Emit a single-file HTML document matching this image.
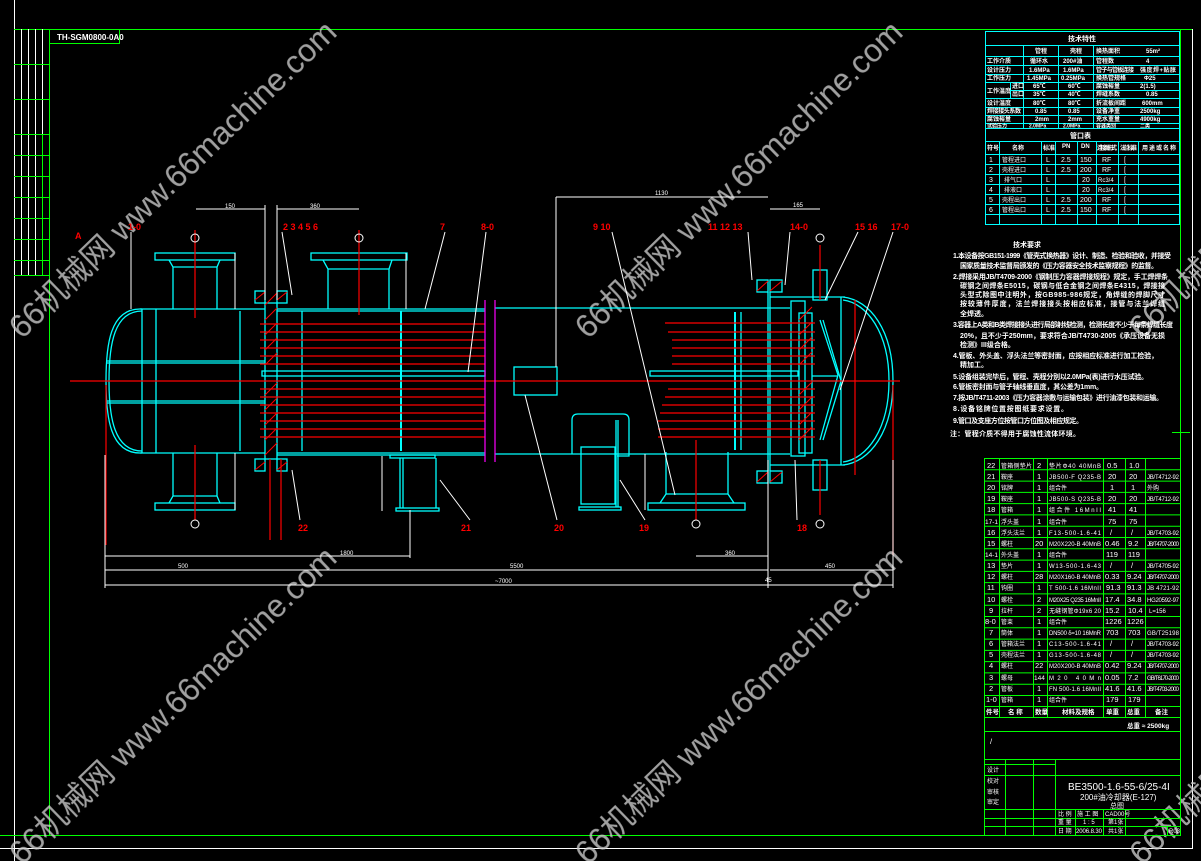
<!DOCTYPE html>
<html><head><meta charset="utf-8"><style>
html,body{margin:0;padding:0;background:#000;}
svg{display:block}
text{font-family:"Liberation Sans","WenQuanYi Zen Hei","Noto Sans CJK SC",sans-serif;}
</style></head><body>
<svg width="1201" height="861" viewBox="0 0 1201 861" xmlns="http://www.w3.org/2000/svg">
<rect width="1201" height="861" fill="#000"/>
<g fill="none" stroke-width="1">
<line x1="14.5" y1="0" x2="14.5" y2="861" stroke="#fff"/>
<line x1="14" y1="29.5" x2="1193" y2="29.5" stroke="#0f0"/>
<line x1="1192.5" y1="29" x2="1192.5" y2="848" stroke="#fff"/>
<line x1="0" y1="848.5" x2="1193" y2="848.5" stroke="#fff"/>
<line x1="49.5" y1="29" x2="49.5" y2="836" stroke="#0f0"/>
<line x1="0" y1="835.5" x2="1181" y2="835.5" stroke="#0f0"/>
<line x1="1180.5" y1="29" x2="1180.5" y2="736" stroke="#0f0"/>
<line x1="1180.5" y1="736" x2="1180.5" y2="836" stroke="#fc0"/>
<line x1="1172" y1="432.5" x2="1190" y2="432.5" stroke="#0f0"/>
<g stroke="#fff"><line x1="21.5" y1="29" x2="21.5" y2="275"/><line x1="28.5" y1="29" x2="28.5" y2="275"/><line x1="35.5" y1="29" x2="35.5" y2="275"/><line x1="42.5" y1="29" x2="42.5" y2="134"/></g>
<g stroke="#0f0"><line x1="42.5" y1="134" x2="42.5" y2="275"/>
<line x1="14" y1="64.5" x2="49" y2="64.5"/><line x1="14" y1="99.5" x2="49" y2="99.5"/><line x1="14" y1="134.5" x2="49" y2="134.5"/><line x1="14" y1="155.5" x2="49" y2="155.5"/><line x1="14" y1="176.5" x2="49" y2="176.5"/><line x1="14" y1="197.5" x2="49" y2="197.5"/><line x1="14" y1="218.5" x2="49" y2="218.5"/><line x1="14" y1="239.5" x2="49" y2="239.5"/><line x1="14" y1="260.5" x2="49" y2="260.5"/><line x1="14" y1="275.5" x2="49" y2="275.5"/>
<polyline points="49,43.5 119.5,43.5 119.5,29"/></g>
</g>
<text x="57" y="40" fill="#fff" font-size="8" font-weight="bold">TH-SGM0800-0A0</text>

<g fill="#c8c8c8" opacity="0.8" font-size="32">
<text transform="translate(22,340) rotate(-44)" textLength="440">66机械网 www.66machine.com</text>
<text transform="translate(588,340) rotate(-44)" textLength="440">66机械网 www.66machine.com</text>
<text transform="translate(1142,340) rotate(-44)" textLength="440">66机械网 www.66machine.com</text>
<text transform="translate(22,866) rotate(-44)" textLength="440">66机械网 www.66machine.com</text>
<text transform="translate(588,866) rotate(-44)" textLength="440">66机械网 www.66machine.com</text>
<text transform="translate(1142,866) rotate(-44)" textLength="440">66机械网 www.66machine.com</text>
</g>

<g fill="none" stroke="#0ff" stroke-width="1.3">
<path d="M142,309 L140,309 C110,309 106,345 106,381 C106,417 110,453 140,453 L142,453"/>
<path d="M142,311 C114,311 109,345 109,381 C109,417 114,451 142,451"/>
<line x1="142" y1="309" x2="142" y2="453"/>
<line x1="156" y1="309" x2="156" y2="453"/>
<line x1="140" y1="309" x2="265" y2="309"/><line x1="140" y1="453" x2="265" y2="453"/>
<line x1="240" y1="311" x2="240" y2="451"/>
<line x1="107" y1="361" x2="265" y2="361"/><line x1="107" y1="363" x2="265" y2="363"/>
<line x1="107" y1="401" x2="265" y2="401"/><line x1="107" y1="403" x2="265" y2="403"/>
<rect x="155" y="253" width="80" height="7"/><path d="M169,260 L173,267 L173,309 M220,260 L217,267 L217,309 M173,267 L217,267"/>
<rect x="155" y="503" width="80" height="7"/><path d="M169,503 L173,496 L173,453 M220,503 L217,496 L217,453 M173,496 L217,496"/>
<rect x="255" y="291" width="10" height="12"/><rect x="277" y="291" width="10" height="12"/>
<rect x="255" y="459" width="10" height="12"/><rect x="277" y="459" width="10" height="12"/>
<rect x="265" y="303" width="12" height="156"/>
<line x1="277" y1="309" x2="485" y2="309"/><line x1="277" y1="311" x2="485" y2="311"/>
<line x1="277" y1="453" x2="485" y2="453"/><line x1="277" y1="455" x2="485" y2="455"/>
<line x1="302" y1="311" x2="302" y2="451"/>
<line x1="401" y1="311" x2="401" y2="451" stroke-width="2"/>
<rect x="262" y="371" width="223" height="5"/>
<rect x="311" y="253" width="96" height="7"/><path d="M323,260 L328,269 L328,309 M392,260 L389,269 L389,309 M328,269 L389,269"/>
<rect x="390" y="455" width="45" height="3"/><line x1="400" y1="458" x2="400" y2="508"/><line x1="403" y1="458" x2="403" y2="508"/><line x1="436" y1="458" x2="436" y2="508"/><rect x="396" y="508" width="43" height="3"/>
<line x1="495" y1="308" x2="790" y2="308"/><line x1="495" y1="454" x2="790" y2="454"/>
<rect x="514" y="367" width="43" height="28"/>
<path d="M572,454 L572,420 Q572,414 578,414 L623,414 Q629,414 629,420 L629,456 L617,456"/>
<rect x="581" y="447" width="34" height="57"/><line x1="616" y1="420" x2="616" y2="507"/><line x1="618" y1="420" x2="618" y2="507"/>
<rect x="579" y="507" width="42" height="3"/>
<path d="M666,452 L666,494 L660,503 M728,452 L728,494 L734,503 M666,494 L728,494"/><rect x="648" y="503" width="97" height="7"/>
<line x1="735" y1="312" x2="735" y2="450" stroke-width="2"/>
<line x1="741" y1="312" x2="741" y2="450"/>
<rect x="757" y="280" width="11" height="12"/><rect x="770" y="280" width="12" height="12"/>
<rect x="757" y="471" width="11" height="12"/><rect x="770" y="471" width="12" height="12"/>
<line x1="768" y1="292" x2="768" y2="471"/><line x1="770" y1="292" x2="770" y2="471"/>
<rect x="791" y="301" width="14" height="155"/>
<rect x="799" y="313" width="13" height="140"/>
<rect x="813" y="270" width="14" height="30"/><rect x="813" y="460" width="14" height="30"/>
<line x1="770" y1="297" x2="845" y2="297"/><line x1="770" y1="465" x2="845" y2="465"/>
<path d="M843,297 C870,300 893,330 893,381 C893,432 870,462 843,465"/>
<path d="M843,300 C867,303 889,333 889,381 C889,429 867,459 843,462"/>
<path d="M820,320 L838,375 L820,440"/><path d="M823,320 L841,381 L823,440"/>
<line x1="812" y1="381" x2="838" y2="381"/><line x1="812" y1="376" x2="838" y2="376"/>
<rect x="650" y="371" width="148" height="5"/>
<line x1="841" y1="297" x2="841" y2="465"/>
</g>
<g stroke="#f00" stroke-width="1" fill="none">
<path d="M265,305 L277,293 M265,320 L277,308 M265,335 L277,323 M265,350 L277,338 M265,365 L277,353 M265,395 L277,383 M265,410 L277,398 M265,425 L277,413 M265,440 L277,428 M265,455 L277,443"/>
<path d="M255,300 L265,292 M277,300 L287,292 M255,470 L265,462 M277,470 L287,462"/>
<path d="M799,320 L812,307 M799,335 L812,322 M799,350 L812,337 M799,365 L812,352 M799,395 L812,382 M799,410 L812,397 M799,425 L812,412 M799,440 L812,427"/>
<path d="M757,291 L768,281 M770,291 L782,281 M757,482 L768,472 M770,482 L782,472"/>
</g>
<g stroke="#f00" stroke-width="1.2">
<line x1="260" y1="324" x2="485" y2="324"/><line x1="260" y1="332" x2="485" y2="332"/><line x1="260" y1="340" x2="485" y2="340"/><line x1="260" y1="348" x2="485" y2="348"/><line x1="260" y1="356" x2="485" y2="356"/><line x1="260" y1="364" x2="485" y2="364"/>
<line x1="260" y1="389" x2="485" y2="389"/><line x1="260" y1="397" x2="485" y2="397"/><line x1="260" y1="405" x2="485" y2="405"/><line x1="260" y1="413" x2="485" y2="413"/><line x1="260" y1="421" x2="485" y2="421"/><line x1="260" y1="429" x2="485" y2="429"/><line x1="260" y1="437" x2="485" y2="437"/>
<line x1="665" y1="323" x2="815" y2="323"/><line x1="668" y1="332" x2="815" y2="332"/><line x1="672" y1="340" x2="815" y2="340"/><line x1="672" y1="348" x2="815" y2="348"/><line x1="672" y1="356" x2="815" y2="356"/><line x1="672" y1="364" x2="815" y2="364"/>
<line x1="668" y1="389" x2="815" y2="389"/><line x1="665" y1="397" x2="815" y2="397"/><line x1="662" y1="405" x2="815" y2="405"/><line x1="660" y1="413" x2="815" y2="413"/><line x1="658" y1="421" x2="815" y2="421"/><line x1="658" y1="429" x2="815" y2="429"/><line x1="658" y1="437" x2="815" y2="437"/>
<line x1="70" y1="381" x2="900" y2="381"/>
<line x1="195" y1="230" x2="195" y2="318"/><line x1="195" y1="445" x2="195" y2="520"/>
<line x1="359" y1="230" x2="359" y2="315"/><line x1="696" y1="440" x2="696" y2="520"/>
<line x1="820" y1="245" x2="820" y2="300"/><line x1="820" y1="460" x2="820" y2="515"/>
<line x1="270" y1="459" x2="270" y2="540"/><line x1="281" y1="459" x2="281" y2="540"/>
<line x1="855" y1="300" x2="855" y2="475"/>
<line x1="106" y1="385" x2="106" y2="545"/><line x1="893" y1="385" x2="893" y2="555"/>
</g>
<g stroke="#f0f" stroke-width="1.2"><line x1="485" y1="300" x2="485" y2="462"/><line x1="495" y1="300" x2="495" y2="462"/></g>
<g stroke="#fff" stroke-width="1" fill="none">
<line x1="196" y1="209" x2="265" y2="209"/><line x1="277" y1="209" x2="359" y2="209"/>
<line x1="265" y1="205" x2="265" y2="300"/><line x1="277" y1="205" x2="277" y2="300"/>
<line x1="556" y1="197" x2="768" y2="197"/><line x1="556" y1="197" x2="556" y2="367"/>
<line x1="770" y1="209" x2="820" y2="209"/>
<line x1="235" y1="253" x2="235" y2="309"/><line x1="406" y1="253" x2="406" y2="309"/>
<line x1="235" y1="453" x2="235" y2="510"/><line x1="382" y1="456" x2="382" y2="511"/><line x1="645" y1="454" x2="645" y2="510"/>
<line x1="105" y1="556" x2="270" y2="556"/><line x1="270" y1="556" x2="410" y2="556"/><line x1="696" y1="556" x2="768" y2="556"/>
<line x1="105" y1="570" x2="768" y2="570"/><line x1="770" y1="570" x2="893" y2="570"/>
<line x1="105" y1="585" x2="893" y2="585"/>
<line x1="105" y1="455" x2="105" y2="588"/><line x1="768" y1="460" x2="768" y2="588"/><line x1="893" y1="460" x2="893" y2="588"/>
<line x1="410" y1="510" x2="410" y2="558"/>
<path d="M131,232 L131,309 M282,232 L292,295 M445,232 L425,309 M486,232 L468,372 M612,232 L675,495 M748,232 L752,280 M790,232 L785,285 M858,232 L825,300 M893,232 L840,390 M300,520 L292,470 M470,520 L440,480 M557,520 L525,395 M645,520 L620,480 M797,520 L795,460"/>
</g>
<g fill="#f00" font-size="9" font-weight="bold">
<text x="75" y="239">A</text><text x="128" y="230">1-0</text><text x="283" y="230">2  3  4  5  6</text><text x="440" y="230">7</text><text x="481" y="230">8-0</text><text x="593" y="230">9  10</text><text x="708" y="230">11  12  13</text><text x="790" y="230">14-0</text><text x="855" y="230">15  16</text><text x="891" y="230">17-0</text>
<text x="298" y="531">22</text><text x="461" y="531">21</text><text x="554" y="531">20</text><text x="639" y="531">19</text><text x="797" y="531">18</text>
</g>
<g fill="none" stroke="#fff"><circle cx="195" cy="238" r="4"/><circle cx="359" cy="238" r="4"/><circle cx="820" cy="238" r="4"/><circle cx="820" cy="524" r="4"/><circle cx="696" cy="524" r="4"/><circle cx="195" cy="524" r="4"/></g>
<g fill="#fff" font-size="6"><text x="225" y="208">150</text><text x="310" y="208">360</text><text x="655" y="195">1130</text><text x="793" y="207">165</text><text x="178" y="568">500</text><text x="340" y="555">1800</text><text x="510" y="568">5500</text><text x="725" y="555">360</text><text x="825" y="568">450</text><text x="495" y="583">~7000</text><text x="765" y="582">45</text></g>

<g stroke="#0ff" stroke-width="1" fill="none">
<rect x="985.5" y="31.5" width="194" height="193"/>
<line x1="985" y1="45.5" x2="1180" y2="45.5"/>
<path d="M985,56.5H1180M985,65.5H1180M985,74.5H1180M985,82.5H1180M1010,90.5H1180M985,98.5H1180M985,107.5H1180M985,115.5H1180M985,123.5H1180M985,128.5H1180M985,141.5H1180M985,154.5H1180M985,164.5H1180M985,174.5H1180M985,184.5H1180M985,194.5H1180M985,204.5H1180M985,214.5H1180"/>
<path d="M1023.5,45V128M1058.5,45V128M1093.5,45V128M1010.5,82V98"/>
<path d="M999.5,141V224M1041.5,141V224M1055.5,141V224M1077.5,141V224M1096.5,141V224M1118.5,141V224M1138.5,141V224"/>
</g>
<g fill="#fff" font-size="6" font-weight="bold">
<text x="1068" y="41" font-size="7">技术特性</text>
<text x="1035" y="53">管程</text><text x="1070" y="53">壳程</text><text x="1096" y="53">换热面积</text><text x="1146" y="53">55m²</text>
<text x="987" y="63">工作介质</text><text x="1030" y="63">循环水</text><text x="1063" y="63">200#油</text><text x="1096" y="63">管程数</text><text x="1146" y="63">4</text>
<text x="987" y="72">设计压力</text><text x="1029" y="72">1.6MPa</text><text x="1063" y="72">1.6MPa</text><text x="1096" y="72" textLength="38">管子与管板连接</text><text x="1140" y="72" textLength="36">强度焊+贴胀</text>
<text x="987" y="80">工作压力</text><text x="1027" y="80">1.45MPa</text><text x="1061" y="80">0.25MPa</text><text x="1096" y="80">换热管规格</text><text x="1144" y="80">Φ25</text>
<text x="987" y="93">工作温度</text><text x="1012" y="88">进口</text><text x="1033" y="88">65℃</text><text x="1068" y="88">60℃</text><text x="1096" y="88">腐蚀裕量</text><text x="1140" y="88">2(1.5)</text>
<text x="1012" y="96">出口</text><text x="1033" y="96">35℃</text><text x="1068" y="96">40℃</text><text x="1096" y="96">焊缝系数</text><text x="1146" y="96">0.85</text>
<text x="987" y="105">设计温度</text><text x="1033" y="105">80℃</text><text x="1068" y="105">80℃</text><text x="1096" y="105">折流板间距</text><text x="1142" y="105">600mm</text>
<text x="987" y="113" textLength="34">焊接接头系数</text><text x="1035" y="113">0.85</text><text x="1068" y="113">0.85</text><text x="1096" y="113">设备净重</text><text x="1140" y="113">2500kg</text>
<text x="987" y="121">腐蚀裕量</text><text x="1035" y="121">2mm</text><text x="1068" y="121">2mm</text><text x="1096" y="121">充水重量</text><text x="1140" y="121">4900kg</text>
<text x="987" y="127.5" font-size="5">试验压力</text><text x="1029" y="127.5" font-size="5">2.0MPa</text><text x="1063" y="127.5" font-size="5">2.0MPa</text><text x="1096" y="127.5" font-size="5">容器类别</text><text x="1140" y="127.5" font-size="5">二类</text>
<text x="1070" y="138" font-size="7">管口表</text>
<text x="987" y="150">符号</text><text x="1012" y="150">名称</text><text x="1043" y="150">标准</text><text x="1062" y="148">PN</text><text x="1081" y="148">DN</text><text x="1097" y="150" textLength="20">连接面形式</text><text x="1120" y="150" textLength="17">法兰标准</text><text x="1142" y="150" textLength="34">用途或名称</text>
<g font-weight="normal" font-size="7">
<text x="989" y="162">1</text><text x="1002" y="162" font-size="6">管程进口</text><text x="1046" y="162">L</text><text x="1061" y="162">2.5</text><text x="1080" y="162">150</text><text x="1102" y="162">RF</text><text x="1124" y="162">[</text>
<text x="989" y="172">2</text><text x="1002" y="172" font-size="6">壳程进口</text><text x="1046" y="172">L</text><text x="1061" y="172">2.5</text><text x="1080" y="172">200</text><text x="1102" y="172">RF</text><text x="1124" y="172">[</text>
<text x="989" y="182">3</text><text x="1004" y="182" font-size="6">排气口</text><text x="1046" y="182">L</text><text x="1082" y="182">20</text><text x="1098" y="182" font-size="6">Rc3/4</text><text x="1124" y="182">[</text>
<text x="989" y="192">4</text><text x="1004" y="192" font-size="6">排液口</text><text x="1046" y="192">L</text><text x="1082" y="192">20</text><text x="1098" y="192" font-size="6">Rc3/4</text><text x="1124" y="192">[</text>
<text x="989" y="202">5</text><text x="1002" y="202" font-size="6">壳程出口</text><text x="1046" y="202">L</text><text x="1061" y="202">2.5</text><text x="1080" y="202">200</text><text x="1102" y="202">RF</text><text x="1124" y="202">[</text>
<text x="989" y="212">6</text><text x="1002" y="212" font-size="6">管程出口</text><text x="1046" y="212">L</text><text x="1061" y="212">2.5</text><text x="1080" y="212">150</text><text x="1102" y="212">RF</text><text x="1124" y="212">[</text>
</g></g>

<g fill="#fff" font-size="7" font-weight="bold">
<text x="1013" y="247">技术要求</text>
<text x="953" y="258" textLength="218">1.本设备按GB151-1999《管壳式换热器》设计、制造、检验和验收，并接受</text>
<text x="960" y="268" textLength="198">国家质量技术监督局颁发的《压力容器安全技术监察规程》的监督。</text>
<text x="953" y="279" textLength="215">2.焊接采用JB/T4709-2000《钢制压力容器焊接规程》规定，手工焊焊条</text>
<text x="960" y="288" textLength="205">碳钢之间焊条E5015，碳钢与低合金钢之间焊条E4315，焊接接</text>
<text x="960" y="297" textLength="205">头型式除图中注明外，按GB985-986规定，角焊缝的焊脚尺寸</text>
<text x="960" y="306" textLength="205">按较薄件厚度，法兰焊接接头按相应标准，接管与法兰焊缝</text>
<text x="960" y="316">全焊透。</text>
<text x="953" y="327" textLength="220">3.容器上A类和B类焊接接头进行局部射线检测，检测长度不少于每条焊缝长度</text>
<text x="960" y="338" textLength="205">20%，且不少于250mm，要求符合JB/T4730-2005《承压设备无损</text>
<text x="960" y="347">检测》III级合格。</text>
<text x="953" y="358" textLength="205">4.管板、外头盖、浮头法兰等密封面，应按相应标准进行加工检验，</text>
<text x="960" y="367">精加工。</text>
<text x="953" y="379" textLength="195">5.设备组装完毕后，管程、壳程分别以2.0MPa(表)进行水压试验。</text>
<text x="953" y="389" textLength="150">6.管板密封面与管子轴线垂直度，其公差为1mm。</text>
<text x="953" y="400" textLength="210">7.按JB/T4711-2003《压力容器涂敷与运输包装》进行油漆包装和运输。</text>
<text x="953" y="411" textLength="115">8.设备铭牌位置按图纸要求设置。</text>
<text x="953" y="423" textLength="130">9.管口及支座方位按管口方位图及相应规定。</text>
<text x="950" y="436" textLength="130">注：管程介质不得用于腐蚀性流体环境。</text>
</g>

<g stroke="#0f0" stroke-width="1" fill="none">
<rect x="984.5" y="458.5" width="196" height="377"/>
<path d="M984,469.8H1180M984,481.1H1180M984,492.4H1180M984,503.6H1180M984,514.9H1180M984,526.2H1180M984,537.5H1180M984,548.8H1180M984,560.1H1180M984,571.4H1180M984,582.6H1180M984,593.9H1180M984,605.2H1180M984,616.5H1180M984,627.8H1180M984,639.1H1180M984,650.4H1180M984,661.6H1180M984,672.9H1180M984,684.2H1180M984,695.5H1180M984,706.5H1180M984,717.5H1180M984,731.5H1180M984,759.5H1180"/>
<path d="M999.5,458V717M1033.5,458V717M1047.5,458V717M1103.5,458V717M1125.5,458V717M1145.5,458V717"/>
<path d="M984,764.5H1055M984,775.5H1180M984,809.5H1180M984,818.5H1180M984,826.5H1180M984,835.5H1180"/>
<path d="M1005.5,759V836M1033.5,759V836M1055.5,759V836M1075.5,809V836M1103.5,809V836M1125.5,809V836M1167.5,826V836"/>
</g>
<g fill="#fff" font-size="7.5">
<g font-size="6"><text x="1001" y="468" textLength="31">管箱侧垫片</text><text x="1049" y="468" textLength="52">垫片Φ40  40MnB</text>
<text x="1001" y="479">鞍座</text><text x="1049" y="479" textLength="52">JB500-F Q235-B</text><text x="1147" y="479" textLength="32">JB/T4712-92</text>
<text x="1001" y="490">铭牌</text><text x="1049" y="490">组合件</text><text x="1147" y="490">外购</text>
<text x="1001" y="501">鞍座</text><text x="1049" y="501" textLength="52">JB500-S Q235-B</text><text x="1147" y="501" textLength="32">JB/T4712-92</text>
<text x="1001" y="512">管箱</text><text x="1049" y="512" textLength="52">组合件    16MnII</text>
<text x="1001" y="524">浮头盖</text><text x="1049" y="524">组合件</text>
<text x="1001" y="535">浮头法兰</text><text x="1049" y="535" textLength="52">F13-500-1.6-41</text><text x="1147" y="535" textLength="32">JB/T4703-92</text>
<text x="1001" y="546">螺柱</text><text x="1049" y="546" textLength="52">M20X220-B 40MnB</text><text x="1147" y="546" textLength="32">JB/T4707-2000</text>
<text x="1001" y="557">外头盖</text><text x="1049" y="557">组合件</text>
<text x="1001" y="568">垫片</text><text x="1049" y="568" textLength="52">W13-500-1.6-43</text><text x="1147" y="568" textLength="32">JB/T4705-92</text>
<text x="1001" y="579">螺柱</text><text x="1049" y="579" textLength="52">M20X160-B 40MnB</text><text x="1147" y="579" textLength="32">JB/T4707-2000</text>
<text x="1001" y="590">钩圈</text><text x="1049" y="590" textLength="52">T 500-1.6 16MnII</text><text x="1147" y="590" textLength="32">JB 4721-92</text>
<text x="1001" y="602">螺栓</text><text x="1049" y="602" textLength="52">M20X25 Q235 16MnII</text><text x="1147" y="602" textLength="32">HG20592-97</text>
<text x="1001" y="613">拉杆</text><text x="1049" y="613" textLength="52">无缝钢管Φ19x6  20</text><text x="1149" y="613">L=156</text>
<text x="1001" y="624">管束</text><text x="1049" y="624">组合件</text>
<text x="1001" y="635">筒体</text><text x="1049" y="635" textLength="52">DN500 δ=10 16MnR</text><text x="1147" y="635" textLength="32">GB/T25198</text>
<text x="1001" y="646">管箱法兰</text><text x="1049" y="646" textLength="52">C13-500-1.6-41</text><text x="1147" y="646" textLength="32">JB/T4703-92</text>
<text x="1001" y="657">壳程法兰</text><text x="1049" y="657" textLength="52">G13-500-1.6-48</text><text x="1147" y="657" textLength="32">JB/T4703-92</text>
<text x="1001" y="668">螺柱</text><text x="1049" y="668" textLength="52">M20X200-B 40MnB</text><text x="1147" y="668" textLength="32">JB/T4707-2000</text>
<text x="1001" y="680">螺母</text><text x="1049" y="680" textLength="52">M20          40Mn</text><text x="1147" y="680" textLength="32">GB/T6170-2000</text>
<text x="1001" y="691">管板</text><text x="1049" y="691" textLength="52">FN 500-1.6 16MnII</text><text x="1147" y="691" textLength="32">JB/T4703-2000</text>
<text x="1001" y="702">管箱</text><text x="1049" y="702">组合件</text></g>
<text x="987" y="468">22</text><text x="1037" y="468">2</text><text x="1107" y="468">0.5</text><text x="1129" y="468">1.0</text>
<text x="987" y="479">21</text><text x="1037" y="479">1</text><text x="1108" y="479">20</text><text x="1129" y="479">20</text>
<text x="987" y="490">20</text><text x="1037" y="490">1</text><text x="1110" y="490">1</text><text x="1131" y="490">1</text>
<text x="987" y="501">19</text><text x="1037" y="501">1</text><text x="1108" y="501">20</text><text x="1129" y="501">20</text>
<text x="987" y="512">18</text><text x="1037" y="512">1</text><text x="1108" y="512">41</text><text x="1129" y="512">41</text>
<text x="985" y="524" font-size="6.5">17-1</text><text x="1037" y="524">1</text><text x="1108" y="524">75</text><text x="1129" y="524">75</text>
<text x="987" y="535">16</text><text x="1037" y="535">1</text><text x="1110" y="535">/</text><text x="1131" y="535">/</text>
<text x="987" y="546">15</text><text x="1035" y="546">20</text><text x="1105" y="546">0.46</text><text x="1128" y="546">9.2</text>
<text x="985" y="557" font-size="6.5">14-1</text><text x="1037" y="557">1</text><text x="1106" y="557">119</text><text x="1128" y="557">119</text>
<text x="987" y="568">13</text><text x="1037" y="568">1</text><text x="1110" y="568">/</text><text x="1131" y="568">/</text>
<text x="987" y="579">12</text><text x="1035" y="579">28</text><text x="1105" y="579">0.33</text><text x="1127" y="579">9.24</text>
<text x="987" y="590">11</text><text x="1037" y="590">1</text><text x="1106" y="590">91.3</text><text x="1127" y="590">91.3</text>
<text x="987" y="602">10</text><text x="1037" y="602">2</text><text x="1105" y="602">17.4</text><text x="1127" y="602">34.8</text>
<text x="989" y="613">9</text><text x="1037" y="613">2</text><text x="1105" y="613">15.2</text><text x="1128" y="613">10.4</text>
<text x="985" y="624">8-0</text><text x="1037" y="624">1</text><text x="1105" y="624">1226</text><text x="1127" y="624">1226</text>
<text x="989" y="635">7</text><text x="1037" y="635">1</text><text x="1106" y="635">703</text><text x="1128" y="635">703</text>
<text x="989" y="646">6</text><text x="1037" y="646">1</text><text x="1110" y="646">/</text><text x="1131" y="646">/</text>
<text x="989" y="657">5</text><text x="1037" y="657">1</text><text x="1110" y="657">/</text><text x="1131" y="657">/</text>
<text x="989" y="668">4</text><text x="1035" y="668">22</text><text x="1105" y="668">0.42</text><text x="1127" y="668">9.24</text>
<text x="989" y="680">3</text><text x="1034" y="680" font-size="6.5">144</text><text x="1105" y="680">0.05</text><text x="1128" y="680">7.2</text>
<text x="989" y="691">2</text><text x="1037" y="691">1</text><text x="1105" y="691">41.6</text><text x="1127" y="691">41.6</text>
<text x="986" y="702">1-0</text><text x="1037" y="702">1</text><text x="1106" y="702">179</text><text x="1128" y="702">179</text>
<g font-size="6.5" font-weight="bold"><text x="986" y="714">件号</text><text x="1008" y="714">名 称</text><text x="1035" y="714">数量</text><text x="1062" y="714">材料及规格</text><text x="1106" y="714">单重</text><text x="1127" y="714">总重</text><text x="1155" y="714">备注</text>
<text x="1127" y="728">总重 ≈ 2500kg</text></g>
<text x="990" y="744">/</text>
<text x="1068" y="790" font-size="10">BE3500-1.6-55-6/25-4I</text>
<text x="1080" y="800" font-size="8">200#油冷却器(E-127)</text>
<text x="1110" y="808" font-size="7">总图</text>
<g font-size="6"><text x="1058" y="816">比 例</text><text x="1077" y="816">施 工 图</text><text x="1105" y="816">CAD00号</text>
<text x="1058" y="824">重 量</text><text x="1083" y="824">1 : 5</text><text x="1108" y="824">第1张</text>
<text x="1058" y="833">日 期</text><text x="1076" y="833" textLength="26">2006.8.30</text><text x="1108" y="833">共1张</text><text x="1169" y="833">R03</text>
<text x="987" y="772">设计</text><text x="987" y="783">校对</text><text x="987" y="794">审核</text><text x="987" y="804">审定</text></g>
</g>
</svg>
</body></html>
